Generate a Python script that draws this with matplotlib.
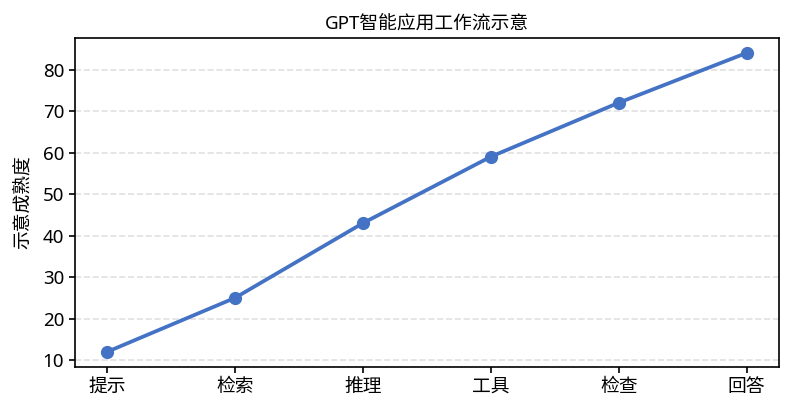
import matplotlib
matplotlib.use('Agg')
import matplotlib.pyplot as plt

plt.rcParams['font.family'] = ['Noto Sans', 'Noto Sans CJK SC', 'DejaVu Sans']

steps = ['提示', '检索', '推理', '工具', '检查', '回答']
maturity = [12, 25, 43, 59, 72, 84]

fig, ax = plt.subplots(figsize=(7.92, 4.13), dpi=100)
ax.plot(steps, maturity, color='#4472C4', linewidth=2.7, marker='o', markersize=8.5)
ax.set_title('GPT智能应用工作流示意', fontsize=13.5)
ax.set_ylabel('示意成熟度', fontsize=13.5, labelpad=8)
ax.tick_params(labelsize=13.5, length=4.5, width=1.2)
for s in ax.spines.values():
    s.set_linewidth(1.2)
ax.grid(axis='y', linestyle='--', color='#e0e0e0', linewidth=1.2)
ax.set_axisbelow(True)

fig.subplots_adjust(left=0.095, right=0.983, top=0.908, bottom=0.112)
fig.savefig('out.png')
